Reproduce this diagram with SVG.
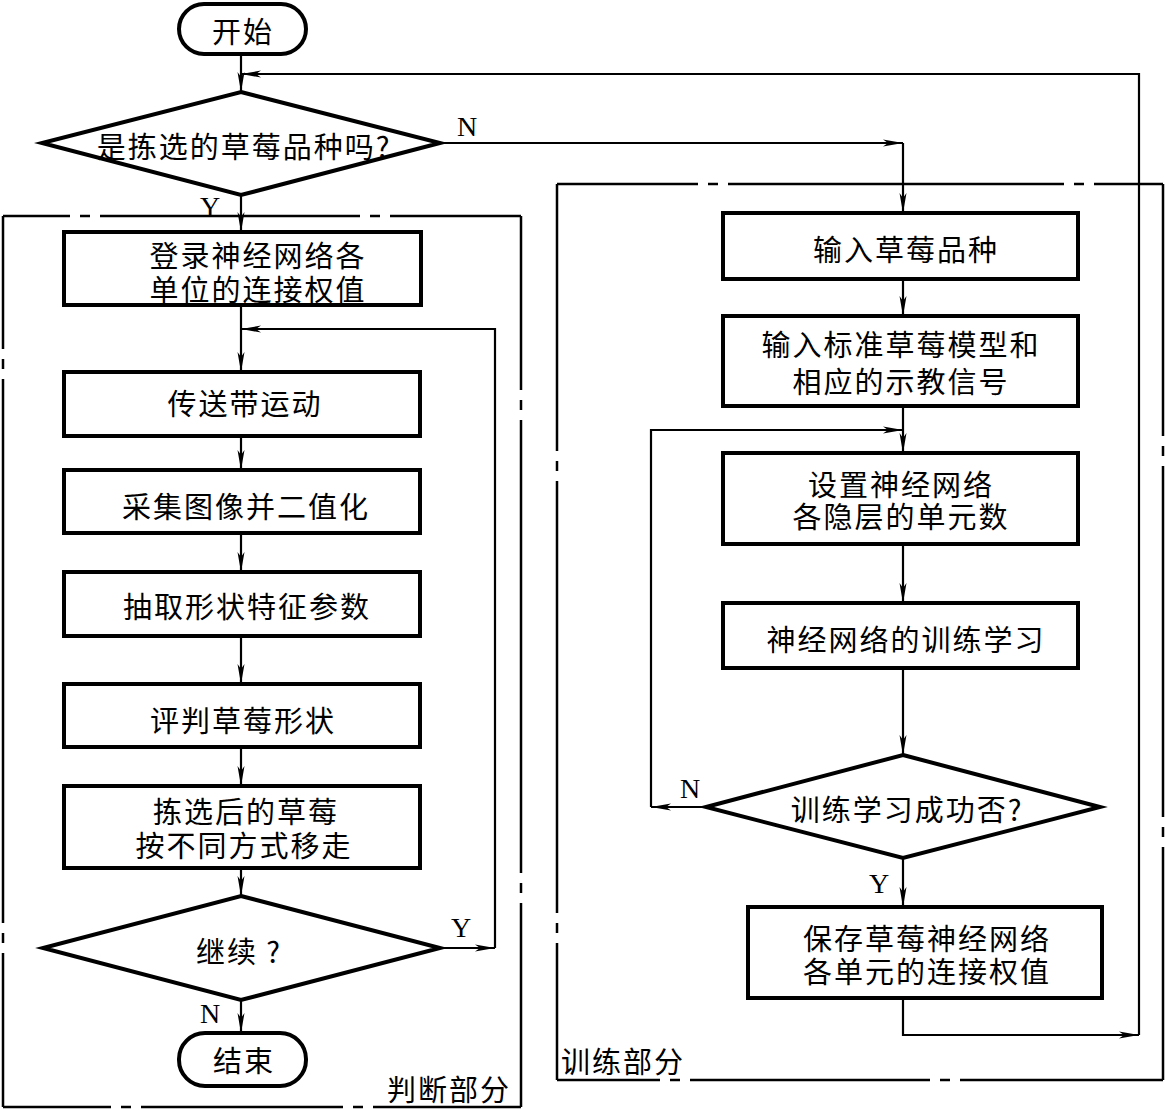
<svg xmlns="http://www.w3.org/2000/svg" width="1166" height="1110" viewBox="0 0 1166 1110">
<style>
.bg{fill:#fff}
.node{fill:#fff;stroke:#000;stroke-width:4}
.grp{fill:none;stroke:#000;stroke-width:2.5}
.con{fill:none;stroke:#000;stroke-width:2.2}
.t{font-family:"Noto Sans CJK SC","Noto Sans",sans-serif;font-size:29px;letter-spacing:2px;fill:#000;text-anchor:middle;dominant-baseline:central}
.tl{font-family:"Noto Sans CJK SC","Noto Sans",sans-serif;font-size:29px;letter-spacing:2px;fill:#000;dominant-baseline:central}
.yn{font-family:"Liberation Serif",serif;font-size:28px;fill:#000;text-anchor:middle;dominant-baseline:central}
</style>
<defs>
<marker id="arr" markerUnits="userSpaceOnUse" markerWidth="20" markerHeight="10" refX="20" refY="5" orient="auto">
<path d="M0,1.5 L20,5 L0,8.5 L5,5 z" fill="#000"/>
</marker>
</defs>
<rect class="bg" x="0" y="0" width="1166" height="1110"/>

<g id="group-judge">
<path class="grp" d="M3,216 H70 M80,216 H90 M100,216 H360 M370,216 H380 M390,216 H521
M521,216 V390 M521,400 V410 M521,420 V873 M521,883 V893 M521,903 V1107
M3,1107 H111 M121,1107 H131 M141,1107 H343 M353,1107 H363 M373,1107 H521
M3,216 V349 M3,359 V369 M3,379 V923 M3,933 V943 M3,953 V1107"/>
<text class="tl" x="387" y="1088">判断部分</text>
</g>

<g id="group-train">
<path class="grp" d="M557,184 H698 M708,184 H718 M728,184 H1064 M1074,184 H1084 M1094,184 H1163
M1163,184 V436 M1163,446 V456 M1163,466 V817 M1163,827 V837 M1163,847 V1080
M557,1080 H660 M670,1080 H680 M690,1080 H930 M940,1080 H950 M960,1080 H1163
M557,184 V451 M557,461 V471 M557,481 V913 M557,923 V933 M557,943 V1080"/>
<text class="tl" x="561" y="1060">训练部分</text>
</g>

<g id="connectors">
<path class="con" d="M241,54 V92" marker-end="url(#arr)"/>
<path class="con" d="M241,195 V232" marker-end="url(#arr)"/>
<path class="con" d="M241,305 V372" marker-end="url(#arr)"/>
<path class="con" d="M241,436 V470" marker-end="url(#arr)"/>
<path class="con" d="M241,533 V572" marker-end="url(#arr)"/>
<path class="con" d="M241,636 V684" marker-end="url(#arr)"/>
<path class="con" d="M241,747 V786" marker-end="url(#arr)"/>
<path class="con" d="M241,868 V896" marker-end="url(#arr)"/>
<path class="con" d="M241,1000 V1033" marker-end="url(#arr)"/>
<path class="con" d="M440,948 H495" marker-end="url(#arr)"/>
<path class="con" d="M495,948 V329 H241" marker-end="url(#arr)"/>
<path class="con" d="M440,143 H903" marker-end="url(#arr)"/>
<path class="con" d="M903,143 V213" marker-end="url(#arr)"/>
<path class="con" d="M903,279 V316" marker-end="url(#arr)"/>
<path class="con" d="M903,406 V453" marker-end="url(#arr)"/>
<path class="con" d="M903,544 V603" marker-end="url(#arr)"/>
<path class="con" d="M903,668 V755" marker-end="url(#arr)"/>
<path class="con" d="M903,858 V907" marker-end="url(#arr)"/>
<path class="con" d="M706,807 H651" marker-end="url(#arr)"/>
<path class="con" d="M651,807 V430 H903" marker-end="url(#arr)"/>
<path class="con" d="M903,998 V1035 H1139" marker-end="url(#arr)"/>
<path class="con" d="M1139,1035 V74 H241" marker-end="url(#arr)"/>
<text class="yn" x="467" y="126">N</text>
<text class="yn" x="210" y="206">Y</text>
<text class="yn" x="461" y="927">Y</text>
<text class="yn" x="210" y="1013">N</text>
<text class="yn" x="690" y="788">N</text>
<text class="yn" x="879" y="883">Y</text>
</g>

<g id="start">
<rect class="node" x="179" y="4" width="127" height="50" rx="25" ry="25"/>
<text class="t" x="243" y="30">开始</text>
</g>

<g id="is-variety">
<polygon class="node" points="241,92 440,143 241,195 42,143"/>
<text class="t" x="244" y="145">是拣选的草莓品种吗?</text>
</g>

<g id="load-weights">
<rect class="node" x="64" y="232" width="357" height="73"/>
<text class="t"><tspan x="258" y="254">登录神经网络各</tspan><tspan x="258" y="288">单位的连接权值</tspan></text>
</g>

<g id="conveyor">
<rect class="node" x="64" y="372" width="356" height="64"/>
<text class="t" x="245" y="402">传送带运动</text>
</g>

<g id="capture">
<rect class="node" x="64" y="470" width="356" height="63"/>
<text class="t" x="246" y="505">采集图像并二值化</text>
</g>

<g id="extract">
<rect class="node" x="64" y="572" width="356" height="64"/>
<text class="t" x="247" y="605">抽取形状特征参数</text>
</g>

<g id="judge-shape">
<rect class="node" x="64" y="684" width="356" height="63"/>
<text class="t" x="243" y="719">评判草莓形状</text>
</g>

<g id="move-away">
<rect class="node" x="64" y="786" width="356" height="82"/>
<text class="t"><tspan x="246" y="810">拣选后的草莓</tspan><tspan x="244" y="844">按不同方式移走</tspan></text>
</g>

<g id="continue">
<polygon class="node" points="241,896 440,948 241,1000 43,948"/>
<text class="t" x="239" y="950">继续 ?</text>
</g>

<g id="end">
<rect class="node" x="179" y="1033" width="127" height="53" rx="26" ry="26"/>
<text class="t" x="244" y="1059">结束</text>
</g>

<g id="input-variety">
<rect class="node" x="723" y="213" width="355" height="66"/>
<text class="t" x="906" y="248">输入草莓品种</text>
</g>

<g id="input-model">
<rect class="node" x="723" y="316" width="355" height="90"/>
<text class="t"><tspan x="901" y="343">输入标准草莓模型和</tspan><tspan x="901" y="380">相应的示教信号</tspan></text>
</g>

<g id="set-hidden">
<rect class="node" x="723" y="453" width="355" height="91"/>
<text class="t"><tspan x="901" y="483">设置神经网络</tspan><tspan x="901" y="515">各隐层的单元数</tspan></text>
</g>

<g id="train">
<rect class="node" x="723" y="603" width="355" height="65"/>
<text class="t" x="906" y="638">神经网络的训练学习</text>
</g>

<g id="train-ok">
<polygon class="node" points="903,755 1100,807 903,858 706,807"/>
<text class="t" x="907" y="808">训练学习成功否?</text>
</g>

<g id="save-weights">
<rect class="node" x="748" y="907" width="354" height="91"/>
<text class="t"><tspan x="927" y="937">保存草莓神经网络</tspan><tspan x="927" y="970">各单元的连接权值</tspan></text>
</g>
</svg>
